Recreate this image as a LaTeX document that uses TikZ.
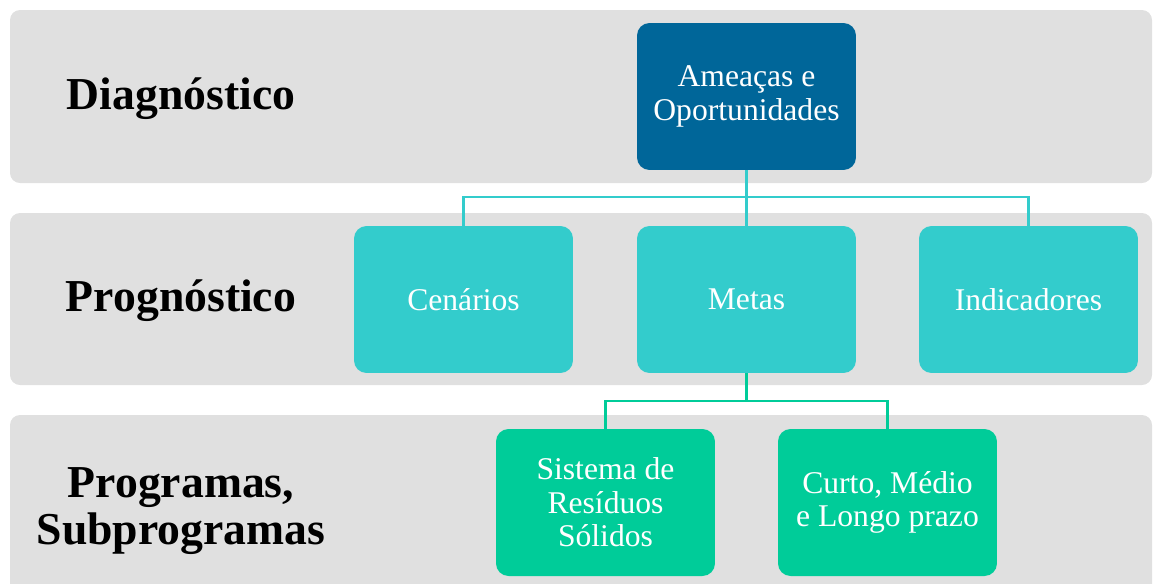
\documentclass[tikz,border=0pt]{standalone}
\usepackage{fontspec}
\setmainfont{Liberation Serif}
\usetikzlibrary{positioning}

\definecolor{bandgray}{HTML}{E0E0E0}
\definecolor{darkblue}{HTML}{006699}
\definecolor{tealbox}{HTML}{33CCCC}
\definecolor{greenbox}{HTML}{00CC99}

\begin{document}
\begin{tikzpicture}[x=0.02cm,y=-0.02cm,
  band/.style={fill=bandgray,rounded corners=0.2cm},
  stepbox/.style={rounded corners=0.25cm,minimum width=4.38cm,minimum height=2.94cm,
    text=white,align=center,inner sep=2pt,font=\fontsize{18}{19}\selectfont},
  phase/.style={align=center,font=\fontsize{26}{26.5}\selectfont\bfseries},
  tealline/.style={draw=tealbox,line width=1.2pt},
  greenline/.style={draw=greenbox,line width=1.2pt}]
\clip (0,0) rectangle (1156,583);

\fill[band] (10,10) rectangle (1152,183);
\fill[band] (10,213) rectangle (1152,385);
\fill[band] (10,415) rectangle (1152,620);

\node[phase] (diag) at (181,99) {Diagnóstico};
\node[phase] (prog) at (181,301) {Prognóstico};
\node[phase] (progr) at (181,511) {Programas,\\Subprogramas};

\node[stepbox,fill=darkblue] (ameacas) at (746.5,96.5) {Ameaças e\\Oportunidades};

\node[stepbox,fill=tealbox] (cenarios) at (463.5,299.5) {Cenários};
\node[stepbox,fill=tealbox] (metas) at (746.5,299.5) {Metas};
\node[stepbox,fill=tealbox] (indicadores) at (1028.5,299.5) {Indicadores};

\node[stepbox,fill=greenbox] (sistema) at (605.5,502.5) {Sistema de\\Resíduos\\Sólidos};
\node[stepbox,fill=greenbox] (prazo) at (887.5,502.5) {Curto, Médio\\e Longo prazo};

\coordinate (bus1) at (746.5,197);
\coordinate (bus2) at (746.5,401);

\draw[tealline] (ameacas.south) -- (bus1);
\draw[tealline] (cenarios.north) |- (bus1) -| (indicadores.north);
\draw[tealline] (bus1) -- (metas.north);

\draw[greenline] (metas.south) -- (bus2);
\draw[greenline] (sistema.north) |- (bus2) -| (prazo.north);

\end{tikzpicture}
\end{document}
